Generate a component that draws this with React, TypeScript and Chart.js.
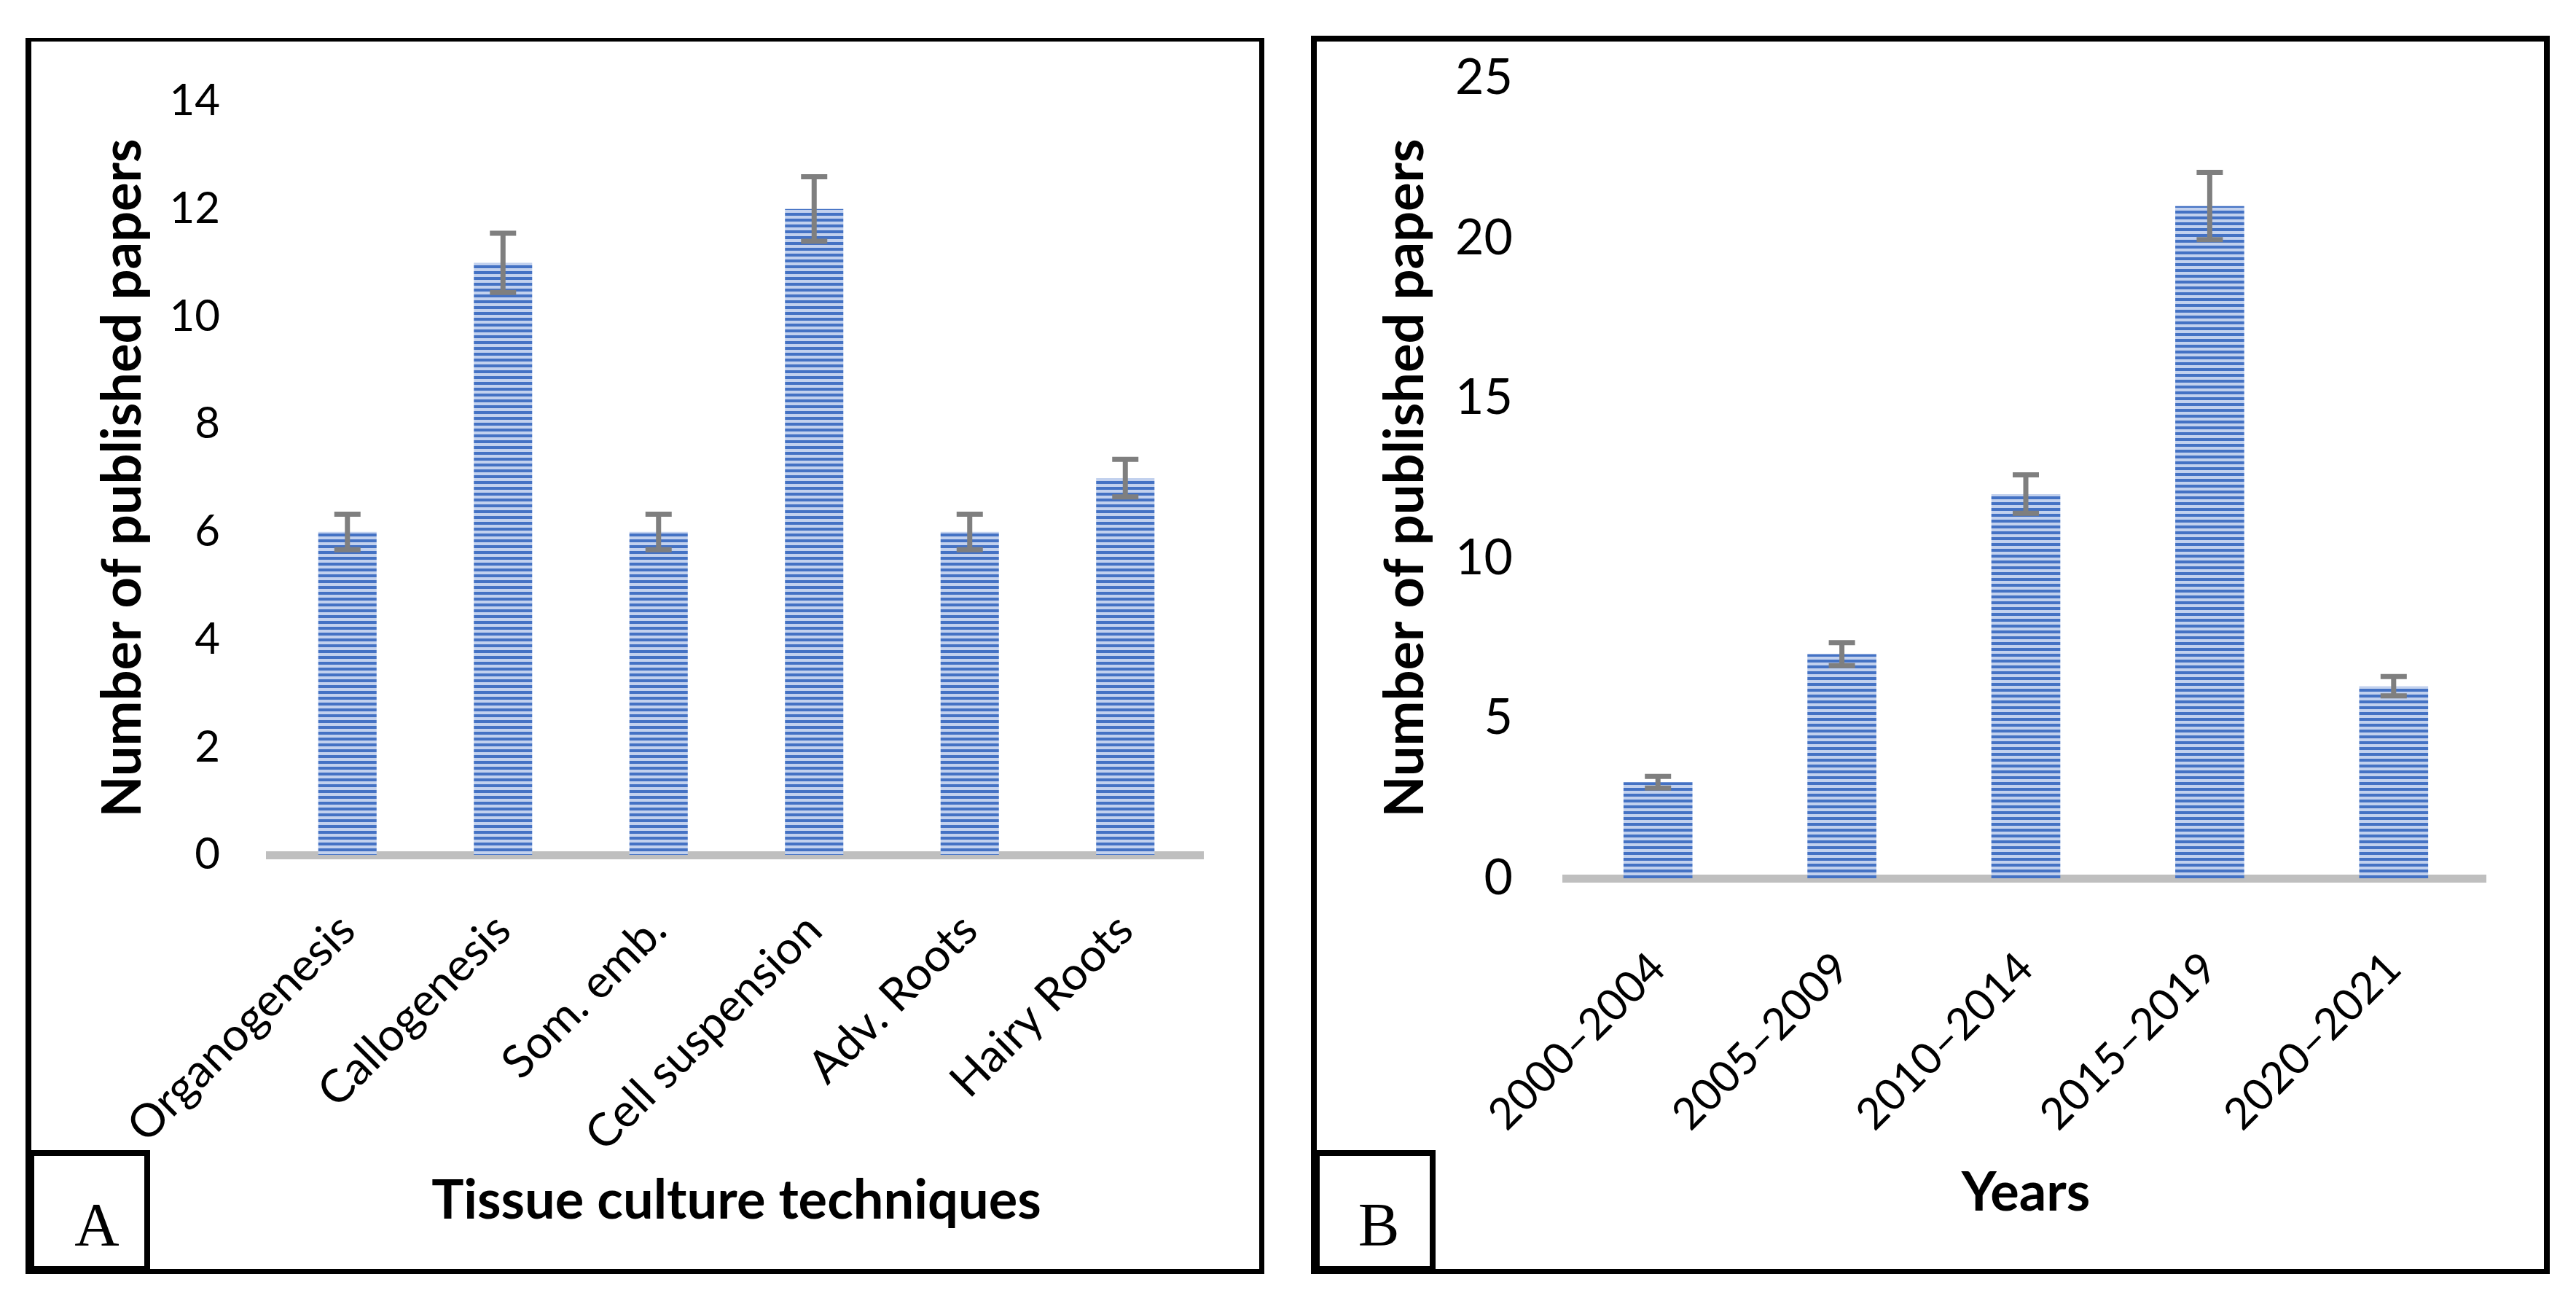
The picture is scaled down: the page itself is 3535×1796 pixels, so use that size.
import React, { useEffect, useRef } from 'react';
import { Chart, registerables } from 'chart.js';

Chart.register(...registerables);

// ---- Data ----
const techniqueLabels = ['Organogenesis', 'Callogenesis', 'Som. emb.', 'Cell suspension', 'Adv. Roots', 'Hairy Roots'];
const techniqueCounts = [6, 11, 6, 12, 6, 7];
const techniqueErrors = [0.33, 0.55, 0.33, 0.6, 0.33, 0.35];
const techniqueTicks = [0, 2, 4, 6, 8, 10, 12, 14];

const yearLabels = ['2000–2004', '2005–2009', '2010–2014', '2015–2019', '2020–2021'];
const yearCounts = [3, 7, 12, 21, 6];
const yearErrors = [0.18, 0.36, 0.6, 1.05, 0.3];
const yearTicks = [0, 5, 10, 15, 20, 25];

const FONT = 'Lato';

function makeStripes(): CanvasPattern | string {
  const c = document.createElement('canvas');
  c.width = 8;
  c.height = 8;
  const ctx = c.getContext('2d');
  if (!ctx) return '#4472C4';
  ctx.fillStyle = '#C2D1EE';
  ctx.fillRect(0, 0, 8, 8);
  ctx.fillStyle = '#4472C4';
  ctx.fillRect(0, 0, 8, 4);
  return ctx.createPattern(c, 'repeat') || '#4472C4';
}

const errorBarPlugin = {
  id: 'errorBars',
  afterDatasetsDraw(chart: any, _args: any, opts: any) {
    const errors: number[] = opts && opts.errors;
    if (!errors) return;
    const meta = chart.getDatasetMeta(0);
    const yScale = chart.scales.y;
    const values = chart.data.datasets[0].data as number[];
    const ctx = chart.ctx;
    ctx.save();
    ctx.strokeStyle = '#7F7F7F';
    ctx.lineWidth = 7;
    ctx.lineCap = 'butt';
    meta.data.forEach((bar: any, i: number) => {
      const v = values[i];
      const top = yScale.getPixelForValue(v + errors[i]);
      const bot = yScale.getPixelForValue(v - errors[i]);
      const x = bar.x;
      ctx.beginPath();
      ctx.moveTo(x, top);
      ctx.lineTo(x, bot);
      ctx.moveTo(x - 18, top);
      ctx.lineTo(x + 18, top);
      ctx.moveTo(x - 18, bot);
      ctx.lineTo(x + 18, bot);
      ctx.stroke();
    });
    ctx.restore();
  },
};

interface PanelCfg {
  labels: string[];
  values: number[];
  errors: number[];
  ticks: number[];
  xTitle: string;
  width: number;
  height: number;
  padTop: number;
  padRight: number;
  yAxisWidth: number;
  xAxisHeight: number;
  yTickSize: number;
  xTickSize: number;
  yTickPad: number;
  xTickPad: number;
  yTitlePad: number;
  xTitlePad: number;
}

const TITLE_SIZE = 74;

function BarPanel({ cfg }: { cfg: PanelCfg }) {
  const ref = useRef<HTMLCanvasElement | null>(null);
  useEffect(() => {
    if (!ref.current) return;
    const pattern = makeStripes();
    const maxTick = cfg.ticks[cfg.ticks.length - 1];
    const chart = new Chart(ref.current, {
      type: 'bar',
      data: {
        labels: cfg.labels,
        datasets: [
          {
            data: cfg.values,
            backgroundColor: pattern as any,
            borderWidth: 0,
            barPercentage: 0.375,
            categoryPercentage: 1,
          },
        ],
      },
      plugins: [errorBarPlugin as any],
      options: {
        responsive: false,
        animation: false,
        devicePixelRatio: 1,
        layout: { padding: { left: 0, right: cfg.padRight, top: cfg.padTop, bottom: 0 } },
        plugins: {
          legend: { display: false },
          tooltip: { enabled: false },
          errorBars: { errors: cfg.errors },
        } as any,
        scales: {
          x: {
            z: 1,
            grid: { display: false, drawTicks: false },
            border: { display: true, color: '#BFBFBF', width: 11 },
            ticks: {
              font: { family: FONT, size: cfg.xTickSize },
              color: '#000',
              minRotation: 45,
              maxRotation: 45,
              autoSkip: false,
              padding: cfg.xTickPad,
            },
            title: {
              display: true,
              text: cfg.xTitle,
              font: { family: FONT, size: TITLE_SIZE, weight: 'bold' },
              color: '#000',
              padding: { top: 0, bottom: cfg.xTitlePad },
            },
            afterFit: (s: any) => {
              s.height = cfg.xAxisHeight;
              s.paddingLeft = 0;
              s.paddingRight = 0;
            },
          },
          y: {
            min: 0,
            max: maxTick,
            grid: { display: false, drawTicks: false },
            border: { display: false },
            ticks: {
              font: { family: FONT, size: cfg.yTickSize },
              color: '#000',
              padding: cfg.yTickPad,
            },
            afterBuildTicks: (s: any) => {
              s.ticks = cfg.ticks.map((v) => ({ value: v }));
            },
            title: {
              display: true,
              text: 'Number of published papers',
              font: { family: FONT, size: TITLE_SIZE, weight: 'bold' },
              color: '#000',
              padding: { top: cfg.yTitlePad, bottom: 0 },
            },
            afterFit: (s: any) => {
              s.width = cfg.yAxisWidth;
              s.paddingTop = 0;
              s.paddingBottom = 0;
            },
          },
        },
      } as any,
    });
    return () => chart.destroy();
  }, [cfg]);
  return <canvas ref={ref} width={cfg.width} height={cfg.height} style={{ display: 'block' }} />;
}

const cfgA: PanelCfg = {
  labels: techniqueLabels,
  values: techniqueCounts,
  errors: techniqueErrors,
  ticks: techniqueTicks,
  xTitle: 'Tissue culture techniques',
  width: 1700,
  height: 1696,
  padTop: 87,
  padRight: 84,
  yAxisWidth: 335,
  xAxisHeight: 575,
  yTickSize: 60,
  xTickSize: 63,
  yTickPad: 68,
  xTickPad: 66,
  yTitlePad: 90,
  xTitlePad: 55,
};

const cfgB: PanelCfg = {
  labels: yearLabels,
  values: yearCounts,
  errors: yearErrors,
  ticks: yearTicks,
  xTitle: 'Years',
  width: 1700,
  height: 1699,
  padTop: 58,
  padRight: 88,
  yAxisWidth: 350,
  xAxisHeight: 543,
  yTickSize: 68,
  xTickSize: 60,
  yTickPad: 73,
  xTickPad: 88,
  yTitlePad: 86,
  xTitlePad: 66,
};

const abs = (l: number, t: number, w: number, h: number): React.CSSProperties => ({
  position: 'absolute',
  left: l,
  top: t,
  width: w,
  height: h,
  boxSizing: 'border-box',
});

export default function App() {
  return (
    <div style={{ position: 'absolute', left: 0, top: 0, width: 3535, height: 1796, overflow: 'hidden', background: '#fff' }}>
      <div style={abs(35, 52, 1700, 1696)}>
        <BarPanel cfg={cfgA} />
      </div>
      <div style={{ ...abs(35, 52, 1700, 1696), borderStyle: 'solid', borderColor: '#000', borderWidth: '5px 7px 7px 8px', pointerEvents: 'none' }} />
      <div style={{ ...abs(35, 1578, 171, 170), borderStyle: 'solid', borderColor: '#000', borderWidth: '8px 8px 11px 12px', background: '#fff' }} />
      <div style={{ ...abs(33, 1638, 200, 85), fontFamily: '"Liberation Serif", serif', fontSize: 85, lineHeight: '85px', textAlign: 'center', color: '#000' }}>A</div>

      <div style={abs(1799, 49, 1700, 1699)}>
        <BarPanel cfg={cfgB} />
      </div>
      <div style={{ ...abs(1799, 49, 1700, 1699), borderStyle: 'solid', borderColor: '#000', borderWidth: '8px 8px 7px 8px', pointerEvents: 'none' }} />
      <div style={{ ...abs(1799, 1578, 171, 170), borderStyle: 'solid', borderColor: '#000', borderWidth: '8px 8px 11px 12px', background: '#fff' }} />
      <div style={{ ...abs(1792, 1638, 200, 85), fontFamily: '"Liberation Serif", serif', fontSize: 85, lineHeight: '85px', textAlign: 'center', color: '#000' }}>B</div>
    </div>
  );
}
